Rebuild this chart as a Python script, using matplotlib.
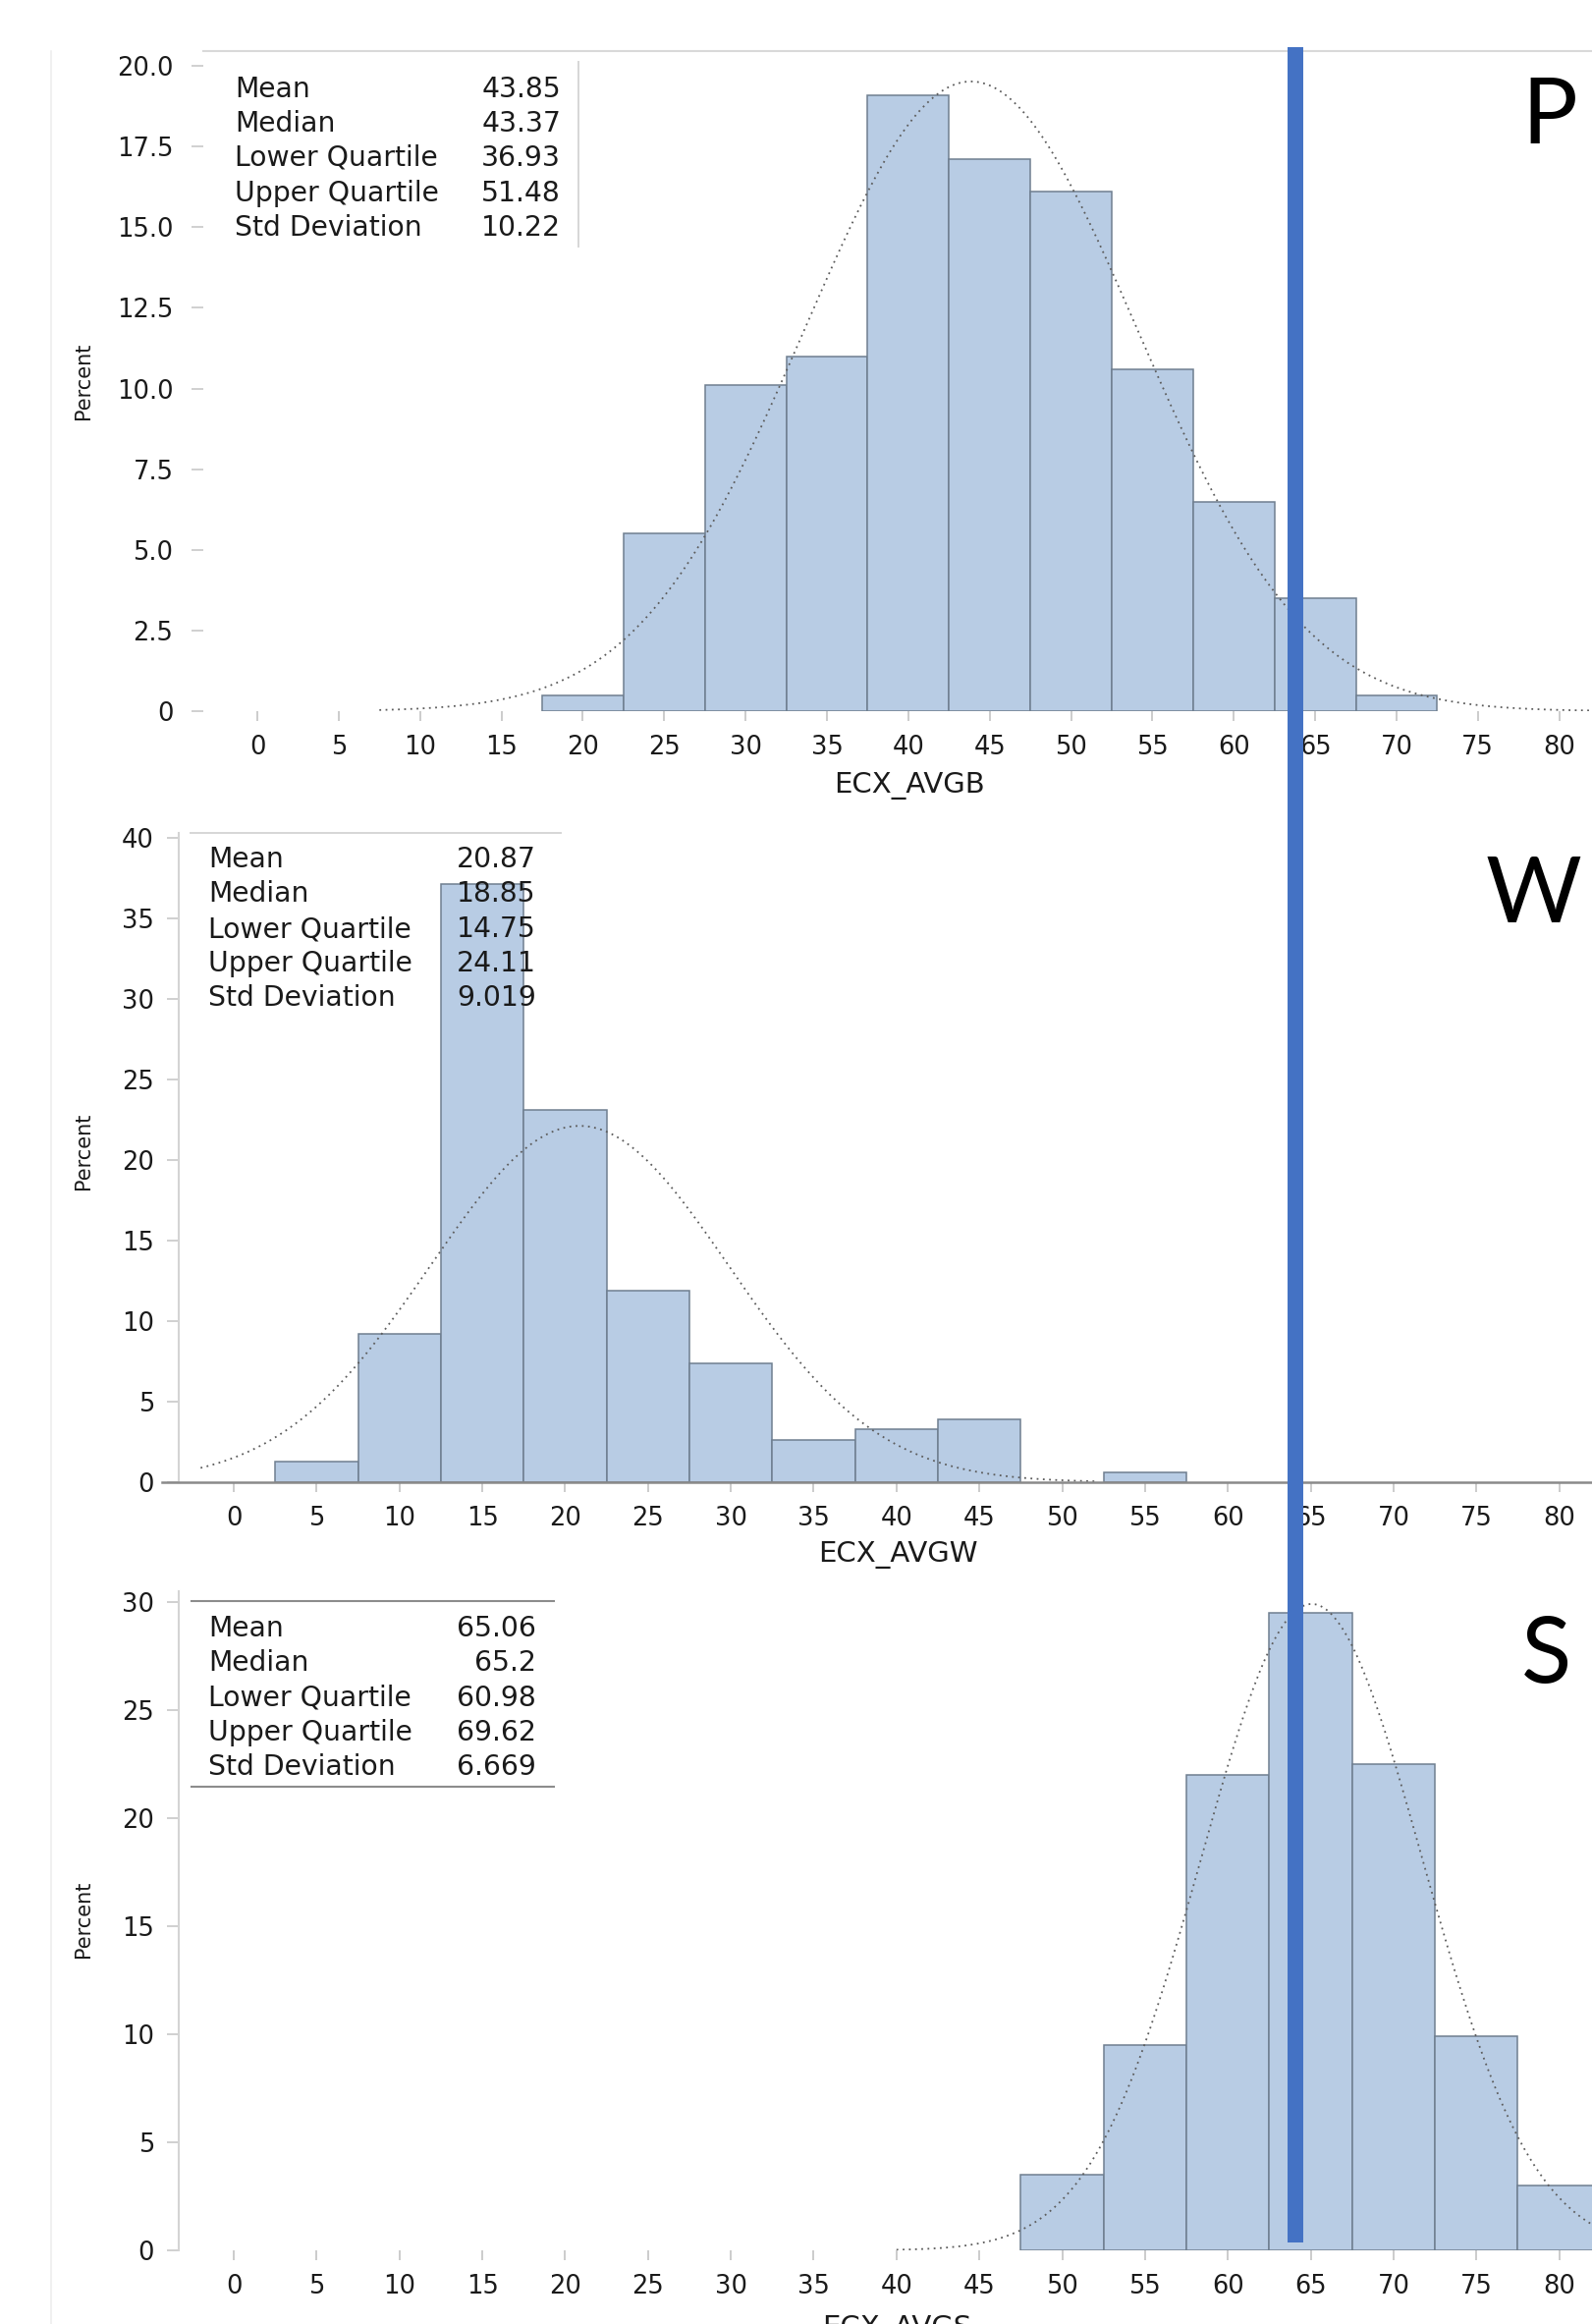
import numpy as np
import matplotlib
matplotlib.use("Agg")
import matplotlib.pyplot as plt
from matplotlib.lines import Line2D

# ---------------- data ----------------
X_TICKS = list(range(0, 85, 5))
BIN_WIDTH = 5

B_MID = [20, 25, 30, 35, 40, 45, 50, 55, 60, 65, 70]
B_PCT = [0.5, 5.5, 10.1, 11.0, 19.1, 17.1, 16.1, 10.6, 6.5, 3.5, 0.5]
B_STATS_LABELS = ["Mean", "Median", "Lower Quartile", "Upper Quartile", "Std Deviation"]
B_STATS_VALUES = ["43.85", "43.37", "36.93", "51.48", "10.22"]
B_MEAN, B_SD = 43.85, 10.22
B_YTICKS = [0, 2.5, 5.0, 7.5, 10.0, 12.5, 15.0, 17.5, 20.0]
B_YLABELS = ["0", "2.5", "5.0", "7.5", "10.0", "12.5", "15.0", "17.5", "20.0"]

W_MID = [5, 10, 15, 20, 25, 30, 35, 40, 45, 55]
W_PCT = [1.3, 9.2, 37.1, 23.1, 11.9, 7.4, 2.6, 3.3, 3.9, 0.6]
W_STATS_VALUES = ["20.87", "18.85", "14.75", "24.11", "9.019"]
W_MEAN, W_SD = 20.87, 9.019
W_YTICKS = [0, 5, 10, 15, 20, 25, 30, 35, 40]

S_MID = [50, 55, 60, 65, 70, 75, 80]
S_PCT = [3.5, 9.5, 22.0, 29.5, 22.5, 9.9, 3.0]
S_STATS_VALUES = ["65.06", "65.2", "60.98", "69.62", "6.669"]
S_MEAN, S_SD = 65.06, 6.669
S_YTICKS = [0, 5, 10, 15, 20, 25, 30]

XLABELS = ["ECX_AVGB", "ECX_AVGW", "ECX_AVGS"]
PANEL_TAGS = ["P", "W", "S"]
THRESHOLD = 64.1

# ---------------- style ----------------
W_PX, H_PX = 1621, 2366
BAR_FACE = "#b8cce4"
BAR_EDGE = "#6f7f90"
TXT = "#1a1a1a"
FONT = "DejaVu Sans"
STAT_FS = 20.3

fig = plt.figure(figsize=(W_PX / 100, H_PX / 100), dpi=100)
fig.patch.set_facecolor("white")


def fx(px):
    return px / W_PX


def fy(py):
    return 1 - py / H_PX


def make_ax(left, right, top, bottom):
    return fig.add_axes([fx(left), fy(bottom), (right - left) / W_PX, (bottom - top) / H_PX])


def normal_curve(ax, mean, sd, lo, hi):
    xs = np.linspace(lo, hi, 500)
    ys = 100 * BIN_WIDTH * np.exp(-0.5 * ((xs - mean) / sd) ** 2) / (sd * np.sqrt(2 * np.pi))
    ax.plot(xs, ys, linestyle=(0, (1, 2.5)), color="#5c5c5c", lw=1.3, zorder=3)


def style_axis(ax, xlim, ylim, yticks, ylabels, ypad):
    ax.set_xlim(*xlim)
    ax.set_ylim(*ylim)
    ax.set_xticks(X_TICKS)
    ax.set_xticklabels([str(t) for t in X_TICKS], fontsize=18.5, color=TXT, family=FONT)
    ax.set_yticks(yticks)
    ax.set_yticklabels(ylabels, fontsize=18.5, color=TXT, family=FONT)
    ax.tick_params(axis="x", length=7, width=1.2, color="#c4c4c4", pad=10)
    ax.tick_params(axis="y", length=9, width=1.2, color="#c8c8c8", pad=ypad)
    for s in ax.spines.values():
        s.set_visible(False)
    ax.patch.set_alpha(0)


# -------- panel 1 (P) --------
ax1 = make_ax(207, 1700, 52, 724)
ax1.bar(B_MID, B_PCT, width=BIN_WIDTH, color=BAR_FACE, edgecolor=BAR_EDGE, lw=1.1, zorder=2)
normal_curve(ax1, B_MEAN, B_SD, 7.5, 84)
style_axis(ax1, (-3.32, 86.78), (0, 20.46), B_YTICKS, B_YLABELS, 13)
ax1.spines["top"].set_visible(True)
ax1.spines["top"].set_color("#d9d9d9")
ax1.spines["top"].set_linewidth(1.5)

# -------- panel 2 (W) --------
ax2 = make_ax(182, 1700, 848, 1509)
ax2.bar(W_MID, W_PCT, width=BIN_WIDTH, color=BAR_FACE, edgecolor=BAR_EDGE, lw=1.1, zorder=2)
normal_curve(ax2, W_MEAN, W_SD, -2.0, 52)
style_axis(ax2, (-3.32, 86.66), (0, 40.3), W_YTICKS, [str(t) for t in W_YTICKS], 9)
ax2.spines["left"].set_visible(True)
ax2.spines["left"].set_color("#d4d4d4")
ax2.spines["left"].set_linewidth(1.5)
# x-axis line of panel 2 starts a little left of the y axis
fig.add_artist(Line2D([fx(165), fx(1621)], [fy(1509), fy(1509)], color="#8a8a8a", lw=1.8, zorder=4))

# -------- panel 3 (S) --------
ax3 = make_ax(182, 1700, 1620, 2291)
ax3.bar(S_MID, S_PCT, width=BIN_WIDTH, color=BAR_FACE, edgecolor=BAR_EDGE, lw=1.1, zorder=2)
normal_curve(ax3, S_MEAN, S_SD, 40, 90)
style_axis(ax3, (-3.32, 86.66), (0, 30.5), S_YTICKS, [str(t) for t in S_YTICKS], 9)
ax3.spines["left"].set_visible(True)
ax3.spines["left"].set_color("#d4d4d4")
ax3.spines["left"].set_linewidth(1.5)

# -------- stats insets --------
def stats_block(label_x, value_x, rows_y, values):
    for lab, val, y in zip(B_STATS_LABELS, values, rows_y):
        fig.text(fx(label_x), fy(y), lab, ha="left", va="center", fontsize=STAT_FS, color=TXT, family=FONT)
        fig.text(fx(value_x), fy(y), val, ha="right", va="center", fontsize=STAT_FS, color=TXT, family=FONT)


stats_block(239, 571, [91, 126, 161, 197, 232], B_STATS_VALUES)
stats_block(212, 546, [875, 910, 946, 981, 1016], W_STATS_VALUES)
stats_block(212, 546, [1658, 1693, 1729, 1764, 1799], S_STATS_VALUES)

fig.add_artist(Line2D([fx(589), fx(589)], [fy(63), fy(251)], color="#d6d6d6", lw=1.4))
fig.add_artist(Line2D([fx(194), fx(571)], [fy(848), fy(848)], color="#d6d6d6", lw=1.4))
fig.add_artist(Line2D([fx(195), fx(564)], [fy(1630), fy(1630)], color="#8c8c8c", lw=1.5))
fig.add_artist(Line2D([fx(195), fx(564)], [fy(1819), fy(1819)], color="#8c8c8c", lw=1.5))

# faint screenshot border
fig.add_artist(Line2D([fx(52), fx(52)], [fy(52), fy(2366)], color="#eeeeee", lw=1.2))

# -------- axis labels --------
for y in (388, 1172, 1954):
    fig.text(fx(85), fy(y), "Percent", rotation=90, ha="center", va="center",
             fontsize=15, color=TXT, family=FONT)
fig.text(fx(926), fy(800), XLABELS[0], ha="center", va="center", fontsize=21, color=TXT, family=FONT)
fig.text(fx(914), fy(1583), XLABELS[1], ha="center", va="center", fontsize=21, color=TXT, family=FONT)
fig.text(fx(913), fy(2357), XLABELS[2], ha="center", va="top", fontsize=21, color=TXT, family=FONT)

# -------- overlay: threshold line and panel letters --------
fig.canvas.draw()
x_disp = ax2.transData.transform((THRESHOLD, 0))[0]
x_fig = fig.transFigure.inverted().transform((x_disp, 0))[0]
fig.add_artist(Line2D([x_fig, x_fig], [fy(48), fy(2283)], color="#4472c4", lw=11.5,
                      solid_capstyle="butt", zorder=10))

for tag, (px, py) in zip(PANEL_TAGS, [(1578, 120), (1561, 913), (1575, 1687)]):
    fig.text(fx(px), fy(py), tag, ha="center", va="center", fontsize=68, color="black",
             family=["Lato", "DejaVu Sans"])

fig.savefig("out.png", dpi=100, facecolor="white")
